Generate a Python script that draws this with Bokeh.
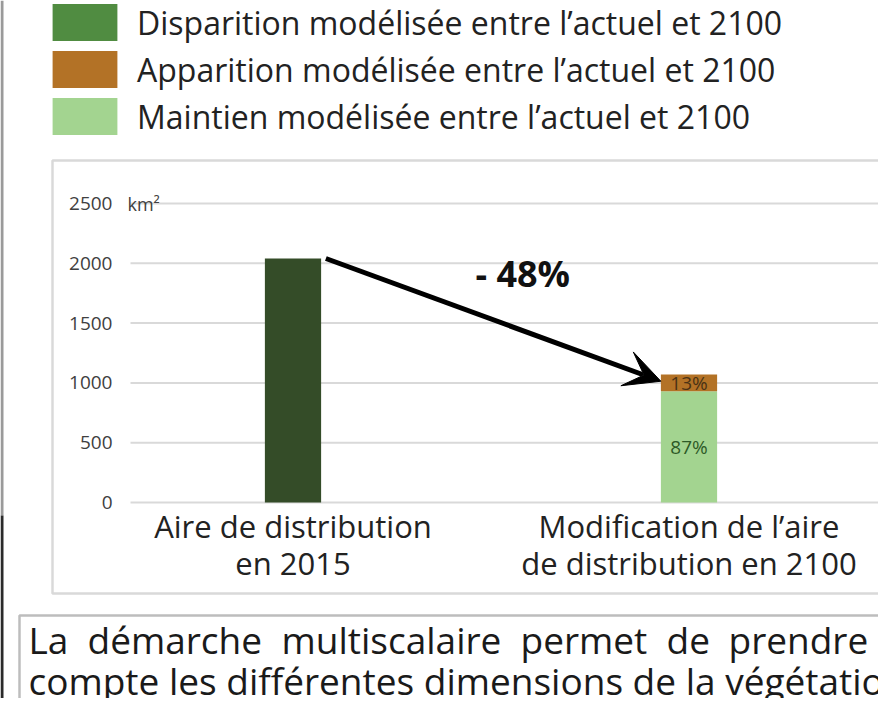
from bokeh.plotting import figure
from bokeh.models import (ColumnDataSource, Range1d, FixedTicker, Label, Arrow, VeeHead,
                          PolyAnnotation, BoxAnnotation, Legend, LegendItem)
from bokeh.embed import file_html
from bokeh.resources import INLINE

# ---------------- data ----------------
categories = ["Aire de distribution\nen 2015", "Modification de l’aire\nde distribution en 2100"]
aire_2015 = [2040, 0]          # km²
maintien_2100 = [0, 930]       # km²
apparition_2100 = [0, 140]     # km²
series_labels = [
    "Disparition modélisée entre l’actuel et 2100",
    "Apparition modélisée entre l’actuel et 2100",
    "Maintien modélisée entre l’actuel et 2100",
]
y_ticks = [0, 500, 1000, 1500, 2000, 2500]
unit_label = "km²"
text_line1 = "La démarche multiscalaire permet de prendre en"
text_line2 = "compte les différentes dimensions de la végétation"

# ---------------- style / layout ----------------
FONT = "Open Sans"
C_2015 = "#344c28"
C_DISP = "#508c41"
C_APP = "#b37226"
C_MAINT = "#a3d490"
TXT = "#222222"

W, H = 878, 698
PL, PR, PT, PB = 130, 885, 203, 502          # plot-area edges (px)
C0, C1 = 292.5, 688.5                        # category centres (px)
UNIT = C1 - C0
Y_MAX = y_ticks[-1]


def px2x(px):
    return (px - C0) / UNIT


def py2y(py):
    return (PB - py) / (PB - PT) * Y_MAX


p = figure(width=W, height=H,
           x_range=Range1d(px2x(0), px2x(W)), y_range=Range1d(py2y(H), py2y(0)),
           output_backend="svg", toolbar_location=None, min_border=0)
p.outline_line_color = None
p.background_fill_color = "white"
p.border_fill_color = "white"
p.xgrid.visible = False
p.ygrid.visible = False

# gridlines (from the tick list)
p.segment(x0=px2x(PL), x1=px2x(PR), y0=y_ticks, y1=y_ticks, line_color="#d9d9d9", line_width=2)

# y axis, drawn at the left edge of the plot area
p.yaxis.fixed_location = px2x(PL)
p.yaxis.bounds = (0, Y_MAX)
p.yaxis.ticker = FixedTicker(ticks=y_ticks)
p.yaxis.axis_line_color = None
p.yaxis.major_tick_line_color = None
p.yaxis.minor_tick_line_color = None
p.yaxis.major_label_standoff = 12
p.yaxis.major_label_text_font = FONT
p.yaxis.major_label_text_font_size = "19px"
p.yaxis.major_label_text_color = "#404040"

# x axis (categories), drawn at y = 0
idx = list(range(len(categories)))
p.xaxis.fixed_location = 0
p.xaxis.ticker = FixedTicker(ticks=idx)
p.xaxis.major_label_overrides = {i: c for i, c in zip(idx, categories)}
p.xaxis.axis_line_color = None
p.xaxis.major_tick_line_color = None
p.xaxis.minor_tick_line_color = None
p.xaxis.major_label_standoff = -4
p.xaxis.major_label_text_font = FONT
p.xaxis.major_label_text_font_size = "31px"
p.xaxis.major_label_text_color = TXT
p.xaxis.major_label_text_line_height = 0.9

# bars
src = ColumnDataSource(dict(x=idx, aire=aire_2015, maint=maintien_2100, app=apparition_2100))
BW = 0.142
p.vbar(x="x", top="aire", width=BW, fill_color=C_2015, line_color=None, source=src)
p.vbar_stack(["maint", "app"], x="x", width=BW, fill_color=[C_MAINT, C_APP],
             line_color=None, source=src)

# percentage labels inside bar 2
tot2 = maintien_2100[1] + apparition_2100[1]
pct_app = round(apparition_2100[1] / tot2 * 100)
pct_maint = round(maintien_2100[1] / tot2 * 100)
p.add_layout(Label(x=1, y=maintien_2100[1] + apparition_2100[1] / 2, text=f"{pct_app}%",
                   text_align="center", text_baseline="middle", text_font=FONT,
                   text_font_size="19px", text_color="#4a3215"))
p.add_layout(Label(x=1, y=maintien_2100[1] / 2, text=f"{pct_maint}%",
                   text_align="center", text_baseline="middle", text_font=FONT,
                   text_font_size="19px", text_color="#2d5a27"))

# arrow and change label
tot1 = aire_2015[0]
change = round((tot2 / tot1 - 1) * 100)
p.add_layout(Arrow(x_start=0 + BW / 2 + 0.012, y_start=tot1,
                   x_end=1 - BW / 2, y_end=maintien_2100[1] + apparition_2100[1] * 0.6,
                   line_width=5, line_color="black",
                   end=VeeHead(size=36, fill_color="black", line_color="black")))
p.add_layout(Label(x=px2x(475), y=py2y(273), text=f"- {abs(change)}%",
                   text_align="left", text_baseline="middle", text_font=FONT,
                   text_font_style="bold", text_font_size="36px", text_color="#111111"))

# unit label
p.add_layout(Label(x=px2x(127), y=Y_MAX, text=unit_label, text_align="left",
                   text_baseline="middle", text_font=FONT, text_font_size="18px",
                   text_color="#404040"))

# chart box
p.add_layout(PolyAnnotation(xs=[px2x(52), px2x(910), px2x(910), px2x(52)],
                            ys=[py2y(160), py2y(160), py2y(593), py2y(593)],
                            fill_color=None, line_color="#808080", line_width=2.5))
# text box
p.add_layout(PolyAnnotation(xs=[px2x(19), px2x(910), px2x(910), px2x(19)],
                            ys=[py2y(615), py2y(615), py2y(740), py2y(740)],
                            fill_color=None, line_color="#262626", line_width=2.5))
# page edge strips on the left
p.add_layout(BoxAnnotation(left=px2x(0), right=px2x(3), top=py2y(0), bottom=py2y(515),
                           fill_color="#9a9a9a", fill_alpha=1, line_color=None))
p.add_layout(BoxAnnotation(left=px2x(0), right=px2x(3), top=py2y(515), bottom=py2y(H),
                           fill_color="#2a2a2a", fill_alpha=1, line_color=None))

# bottom text (line 1 justified)
words1 = text_line1.split(" ")
word_px = [28, 87, 281, 520, 666, 728, 887]
for w, xp in zip(words1, word_px):
    p.add_layout(Label(x=px2x(xp), y=py2y(639), text=w, text_align="left",
                       text_baseline="middle", text_font=FONT, text_font_size="37px",
                       text_color="#1a1a1a"))
p.add_layout(Label(x=px2x(28), y=py2y(680), text=text_line2, text_align="left",
                   text_baseline="middle", text_font=FONT, text_font_size="37px",
                   text_color="#1a1a1a"))

# legend (swatch = 80 % of glyph box in Bokeh)
leg_colors = [C_DISP, C_APP, C_MAINT]
leg_r = [p.vbar(x=[0], top=[0], width=0, fill_color=c, line_color=None) for c in leg_colors]
GW, GH = 81, 46
legend = Legend(items=[LegendItem(label=l, renderers=[r]) for l, r in zip(series_labels, leg_r)],
                location=(44, H - 139), orientation="vertical",
                glyph_width=GW, glyph_height=GH, label_standoff=12, spacing=1,
                padding=0, margin=0, border_line_color=None, background_fill_alpha=0,
                label_text_font=FONT, label_text_font_size="32px", label_text_color=TXT)
p.add_layout(legend, "center")

open("out.html", "w").write(file_html(p, INLINE))
